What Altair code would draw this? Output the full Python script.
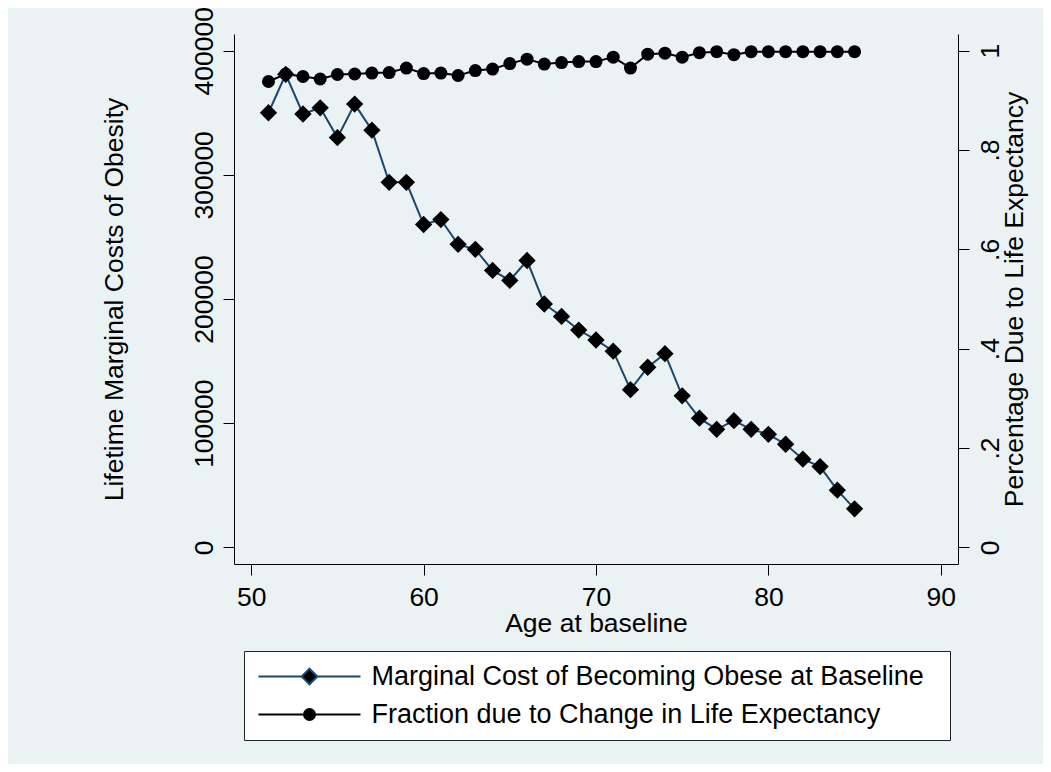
import altair as alt
import pandas as pd

# ---- data ----
ages = list(range(51, 86))
cost = [350000, 381000, 349000, 354000, 330000, 357000, 336000, 294000, 294000, 260000,
        264000, 244000, 240000, 223000, 215000, 231000, 196000, 186000, 175000, 167000,
        158000, 127000, 145000, 156000, 122000, 104000, 95000, 102000, 95000, 91000,
        83000, 71000, 65000, 46000, 31000]
fraction = [0.938, 0.953, 0.948, 0.943, 0.952, 0.953, 0.955, 0.956, 0.965, 0.954,
            0.955, 0.950, 0.960, 0.963, 0.974, 0.983, 0.973, 0.976, 0.978, 0.978,
            0.987, 0.965, 0.993, 0.995, 0.987, 0.996, 0.998, 0.992, 0.998, 0.998,
            0.998, 0.998, 0.998, 0.998, 0.998]
series_names = ["Marginal Cost of Becoming Obese at Baseline",
                "Fraction due to Change in Life Expectancy"]
x_ticks = [50, 60, 70, 80, 90]
y_left_ticks = [0, 100000, 200000, 300000, 400000]
y_right_ticks = [0, 0.2, 0.4, 0.6, 0.8, 1.0]

df = pd.DataFrame({"age": ages, "cost": cost, "fraction": fraction})
leg_df = pd.DataFrame({"series": series_names})

FONT = "Liberation Sans, Arial, Helvetica, sans-serif"
FS = 26.5
NAVY = "#1a476f"
BG = "#eaf2f3"

x_enc = alt.X("age:Q",
              scale=alt.Scale(domain=[49, 91], nice=False, zero=False),
              axis=alt.Axis(values=x_ticks, format="d", title="Age at baseline", grid=False,
                            tickSize=11, labelPadding=30.7, labelBaseline="alphabetic",
                            labelAlign="center", labelFlush=False, labelOverlap=False,
                            titleX=362, titleY=67, titleAlign="center",
                            titleBaseline="alphabetic"))

y_left = alt.Y("cost:Q",
               scale=alt.Scale(domain=[-13450, 413450], nice=False, zero=False),
               axis=alt.Axis(orient="left", values=y_left_ticks, format="d",
                             title="Lifetime Marginal Costs of Obesity",
                             labelAngle=270, labelAlign="center", labelBaseline="alphabetic",
                             labelPadding=11, tickSize=11, labelOverlap=False,
                             labelFlush=False, labelBound=False,
                             grid=True, gridColor=BG, gridWidth=1.5,
                             titleAngle=270, titleX=-112, titleY=265, titleAlign="center",
                             titleBaseline="alphabetic"))

y_right = alt.Y("fraction:Q",
                scale=alt.Scale(domain=[-0.0336, 1.0336], nice=False, zero=False),
                axis=alt.Axis(orient="right", values=y_right_ticks,
                              labelExpr="datum.value == 0 ? '0' : (datum.value == 1 ? '1' : '.' + format(datum.value * 10, '.0f'))",
                              title="Percentage Due to Life Expectancy",
                              labelAngle=270, labelAlign="center", labelBaseline="alphabetic",
                              labelPadding=29, tickSize=11, labelOverlap=False,
                              labelFlush=False, labelBound=False, grid=False,
                              titleAngle=270, titleX=64, titleY=265, titleAlign="center",
                              titleBaseline="alphabetic"))

base = alt.Chart(df)
frac_line = base.mark_line(color="black", strokeWidth=2).encode(x=x_enc, y=y_right)
frac_pts = base.mark_point(shape="circle", filled=True, color="black", size=169,
                           opacity=1).encode(x=x_enc, y=y_right)
cost_line = base.mark_line(color=NAVY, strokeWidth=2).encode(x=x_enc, y=y_left)
cost_pts = base.mark_point(shape="diamond", filled=True, color="black", size=300,
                           opacity=1).encode(x=x_enc, y=y_left)

right_layer = alt.layer(frac_line, frac_pts)
left_layer = alt.layer(cost_line, cost_pts)

path_d = "M-5.1,0H-0.78M0.78,0H5.1M0,-0.78L0.78,0L0,0.78L-0.78,0Z"
path_c = "M-5.1,0H-0.55M0.55,0H5.1M0.55,0A0.55,0.55,0,1,1,-0.55,0A0.55,0.55,0,1,1,0.55,0Z"

leg = alt.Legend(title="\u00a0", titleOrient="right", titlePadding=14, titleFontSize=4,
                 orient="none", legendX=10, legendY=617, direction="vertical",
                 labelFont=FONT, labelFontSize=27, labelColor="black", labelLimit=2000,
                 symbolSize=400, symbolStrokeWidth=2, symbolOffset=40, labelOffset=48.5,
                 padding=12, rowPadding=10, fillColor="white", strokeColor="#222222",
                 symbolOpacity=1)

legend_layer = alt.Chart(leg_df).mark_point(filled=True, opacity=1, strokeWidth=2).encode(
    shape=alt.Shape("series:N", scale=alt.Scale(domain=series_names, range=[path_d, path_c]),
                    legend=leg),
    stroke=alt.Stroke("series:N", scale=alt.Scale(domain=series_names, range=[NAVY, "black"]),
                      legend=leg),
    fill=alt.Fill("series:N", scale=alt.Scale(domain=series_names, range=["black", "black"]),
                  legend=leg),
).transform_filter("false")

chart = alt.layer(right_layer, left_layer, legend_layer).resolve_scale(
    y="independent"
).properties(
    width=724, height=530, background=BG,
    padding={"left": 226, "top": 26, "right": 85, "bottom": 200},
    autosize=alt.AutoSizeParams(type="none"),
).configure_view(
    fill="white", stroke="transparent"
).configure_axis(
    labelFont=FONT, titleFont=FONT, labelFontSize=FS, titleFontSize=FS,
    labelColor="black", titleColor="black", titleFontWeight="normal",
    domainColor="black", tickColor="black", domainWidth=1, tickWidth=1,
)

chart.save("out.html", embed_options={"renderer": "svg", "actions": False})
